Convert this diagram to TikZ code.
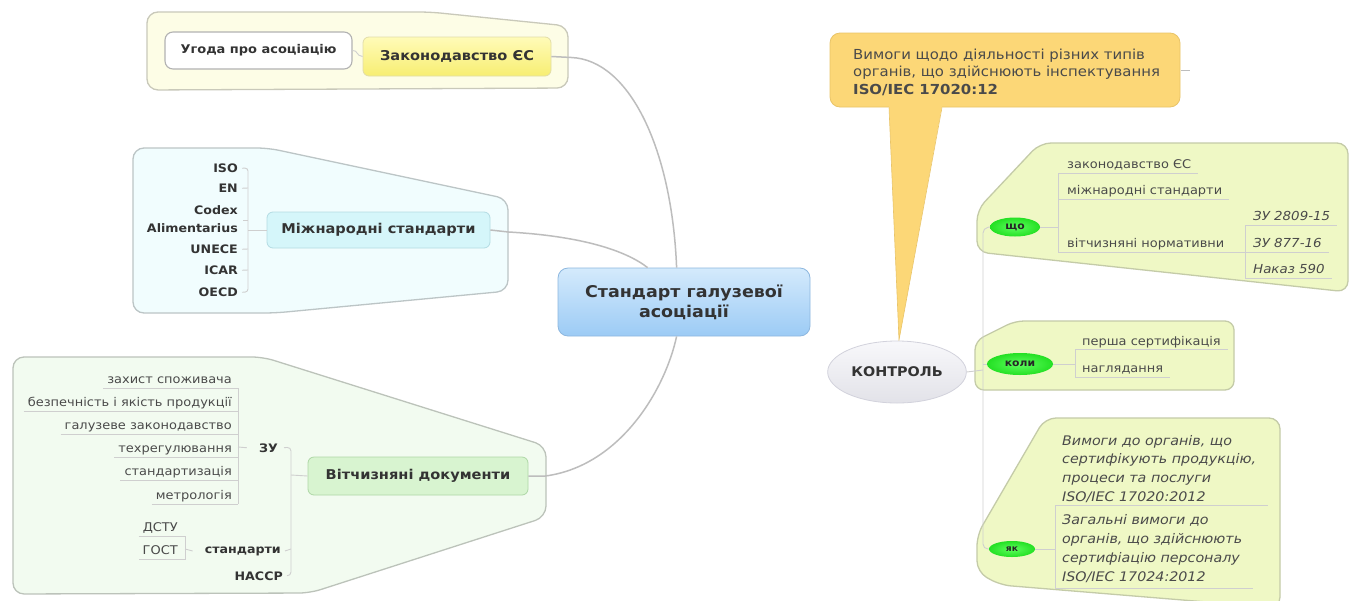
\documentclass[tikz,border=0pt]{standalone}
\usepackage{fontspec}
\setmainfont[FakeStretch=1.08]{DejaVu Sans}
\usetikzlibrary{calc,shapes.geometric}
\definecolor{txt}{HTML}{4A4A4A}
\definecolor{txtd}{HTML}{333333}
\definecolor{conn}{HTML}{BDBDBD}
\definecolor{tree}{HTML}{CFCFCF}
\definecolor{yelC}{HTML}{FDFDE6}
\definecolor{yelB}{HTML}{C9C9BA}
\definecolor{cyaC}{HTML}{F1FDFE}
\definecolor{cyaB}{HTML}{BCC5C6}
\definecolor{grnC}{HTML}{F2FBF0}
\definecolor{grnB}{HTML}{BCC3BA}
\definecolor{limC}{HTML}{EFF8C5}
\definecolor{limB}{HTML}{C4CBA8}
\definecolor{zakT}{HTML}{FFFBB8}
\definecolor{zakBt}{HTML}{F7EE72}
\definecolor{zakB}{HTML}{E2DDA8}
\definecolor{mizF}{HTML}{D5F6FA}
\definecolor{mizB}{HTML}{B3DCE3}
\definecolor{vitF}{HTML}{D8F4D0}
\definecolor{vitB}{HTML}{AED7A6}
\definecolor{cenT}{HTML}{D4EAFC}
\definecolor{cenBt}{HTML}{9CCBF5}
\definecolor{cenB}{HTML}{8DB7DF}
\definecolor{konF}{HTML}{EDEDF4}
\definecolor{konB}{HTML}{D2D2DC}
\definecolor{calF}{HTML}{FCD777}
\definecolor{calB}{HTML}{E9C468}
\definecolor{ovI}{HTML}{5EFF5E}
\definecolor{ovO}{HTML}{24E024}
\begin{document}
\begin{tikzpicture}[x=1pt,y=-1pt,
  lab/.style={font=\fontsize{12}{15}\selectfont, text=txt, inner sep=0pt},
  blab/.style={font=\bfseries\fontsize{11.7}{18}\selectfont, text=txtd, inner sep=0pt, align=right},
  ilab/.style={font=\itshape\fontsize{12.4}{19}\selectfont, text=txt, inner sep=0pt, align=left},
  ilabb/.style={font=\itshape\fontsize{13.2}{18.8}\selectfont, text=txt, inner sep=0pt, align=left},
  ul/.style={draw=tree, line width=0.9pt},
  cn/.style={draw=conn, line width=1.5pt},
  grp/.style={line width=1.3pt, rounded corners=11pt},
  topic/.style={rounded corners=6pt, line width=0.8pt, font=\bfseries\fontsize{13.5}{16}\selectfont, text=txtd},
  oval/.style={ellipse, inner sep=0pt, shading=radial, inner color=ovI, outer color=ovO, font=\bfseries\fontsize{10}{11}\selectfont, text=black!85}
]
\useasboundingbox (0,0) rectangle (1354,600);
\fill[white] (0,0) rectangle (1354,600);

% ---------- group containers ----------
\draw[grp, fill=yelC, draw=yelB] (147,12) -- (430,12) -- (568,26) -- (568,88) -- (147,90) -- cycle;
\draw[grp, fill=cyaC, draw=cyaB] (133,148) -- (268,148) -- (508,199) -- (508,291) -- (275,313) -- (133,313) -- cycle;
\draw[grp, fill=grnC, draw=grnB] (13,357) -- (263,357) -- (546,446) -- (546,517) -- (310,593) -- (13,594) -- cycle;
\draw[grp, fill=limC, draw=limB] (977,252) -- (977,210) -- (1040,143) -- (1348,143) -- (1348,292) -- cycle;
\draw[grp, rounded corners=9pt, fill=limC, draw=limB] (975,390) -- (975,341) -- (1015,321) -- (1234,321) -- (1234,390) -- cycle;
\draw[grp, fill=limC, draw=limB] (977,572) -- (977,535) -- (1045,418) -- (1280,418) -- (1280,608) -- (1000,585) -- cycle;

% ---------- callout ----------
\draw[fill=calF, draw=calB, line width=0.8pt, rounded corners=10pt] (830,33) rectangle (1180,107);
\fill[calF] (889,106) -- (899,340) -- (942,106) -- cycle;
\draw[calB, line width=0.6pt] (889,107.5) -- (899,340) -- (942,107.5);
\draw[conn, line width=0.8pt] (1181,70) -- (1190,70);
\node[anchor=base west, inner sep=0pt, align=left, text=txt, font=\fontsize{13.8}{17.5}\selectfont] (cal) at (853,94)
  {Вимоги щодо діяльності різних типів\\органів, що здійснюють інспектування\\\textbf{ISO/IEC 17020:12}};

% ---------- main topics ----------
\node[draw=cenB, top color=cenT, bottom color=cenBt, rounded corners=10pt, line width=0.8pt,
      minimum width=252pt, minimum height=68pt, align=center, text=txtd,
      font=\bfseries\fontsize{16.2}{20}\selectfont] (cen) at (684,302) {Стандарт галузевої\\асоціації};
\node[topic, draw=zakB, top color=zakT, bottom color=zakBt, minimum width=188pt, minimum height=39pt] (zak) at (457,56.5) {Законодавство ЄС};
\node[topic, draw=gray!60, fill=white, rounded corners=8pt, line width=1.1pt, minimum width=187pt, minimum height=37pt, font=\bfseries\fontsize{12}{15}\selectfont] (ugo) at (258.5,50.5) {Угода про асоціацію};
\node[topic, draw=mizB, fill=mizF, minimum width=223pt, minimum height=36pt] (miz) at (378.5,230) {Міжнародні стандарти};
\node[topic, draw=vitB, fill=vitF, minimum width=220pt, minimum height=38pt] (vit) at (418,476) {Вітчизняні документи};
\node[ellipse, draw=konB, top color=white!60!konF, bottom color=konF!90!gray, line width=0.8pt, minimum width=136pt, minimum height=62pt, text=txtd,
      font=\bfseries\fontsize{13.3}{15}\selectfont] (kon) at (897,372) {КОНТРОЛЬ};

% ---------- main connectors ----------
\draw[cn] (zak.east) -- ++(20,1) .. controls (630,60) and (672,150) .. ($(cen.north west)+(119,0)$);
\draw[cn] (miz.east) -- ++(18,2) .. controls (580,236) and (625,250) .. ($(cen.north west)+(90,0)$);
\draw[cn] (vit.east) -- ++(17,0) .. controls (620,466) and (665,390) .. ($(cen.south west)+(119,0)$);
\draw[ul] (ugo.east) .. controls (358,50) and (356,56) .. (zak.west);

% ---------- Міжнародні стандарти children ----------
\node[blab, anchor=base east] (iso) at (238,172.5) {ISO};
\node[blab, anchor=base east] (en) at (238,192.5) {EN};
\node[blab, anchor=base east] (cod) at (238,232.5) {Codex\\Alimentarius};
\node[blab, anchor=base east] (une) at (238,253.5) {UNECE};
\node[blab, anchor=base east] (ica) at (238,274.5) {ICAR};
\node[blab, anchor=base east] (oec) at (238,296.5) {OECD};
\draw[ul, rounded corners=3pt] ($(iso.east)+(4,0)$) -- (248,168) -- (248,292) -- ($(oec.east)+(4,0)$);
\draw[ul] ($(en.east)+(4,0)$) -- (248,188);
\draw[ul] (243,220) -- (248,220);
\draw[ul] ($(une.east)+(4,0)$) -- (248,249);
\draw[ul] ($(ica.east)+(4,0)$) -- (248,270);
\draw[ul] (248,230) -- (miz.west);

% ---------- Вітчизняні документи children ----------
\node[blab, anchor=base east] (zu) at (278,452) {ЗУ};
\node[blab, anchor=base east] (std) at (281,553) {стандарти};
\node[blab, anchor=base east] (hac) at (283,580) {НАССР};
\draw[ul, rounded corners=4pt] ($(zu.east)+(6,0)$) -- (291,447) -- (291,576) -- ($(hac.east)+(4,0)$);
\draw[ul] ($(std.east)+(4,0)$) -- (291,549);
\draw[ul] (291,475) -- (vit.west);

\node[lab, anchor=base east] (z1) at (232,383) {захист споживача};
\node[lab, anchor=base east] (z2) at (232,406.2) {безпечність і якість продукції};
\node[lab, anchor=base east] (z3) at (232,429.4) {галузеве законодавство};
\node[lab, anchor=base east] (z4) at (232,452.6) {техрегулювання};
\node[lab, anchor=base east] (z5) at (232,475.8) {стандартизація};
\node[lab, anchor=base east] (z6) at (232,499) {метрологія};
\draw[ul] ($(z1.base west)+(-4,5)$) -- (238,388);
\draw[ul] ($(z2.base west)+(-4,5)$) -- (238,411.2);
\draw[ul] ($(z3.base west)+(-4,5)$) -- (238,434.4);
\draw[ul] ($(z4.base west)+(-4,5)$) -- (238,457.6);
\draw[ul] ($(z5.base west)+(-4,5)$) -- (238,480.8);
\draw[ul] ($(z6.base west)+(-4,5)$) -- (238,504);
\draw[ul] (238,388) -- (238,504);
\draw[ul] (238,447) -- ($(zu.west)+(-12,0)$);

\node[lab, anchor=base east] (dstu) at (178,531) {ДСТУ};
\node[lab, anchor=base east] (gost) at (178,554) {ГОСТ};
\draw[ul] ($(dstu.base west)+(-4,5)$) -- (185,536) -- (185,559) -- ($(gost.base west)+(-4,5)$);
\draw[ul] (185,549) -- ($(std.west)+(-12,0)$);

% ---------- КОНТРОЛЬ branch ----------
\node[oval, minimum width=50pt, minimum height=19pt] (sho) at (1015,227) {що};
\node[oval, minimum width=66pt, minimum height=22pt] (kol) at (1020,364) {коли};
\node[oval, minimum width=46pt, minimum height=16pt, font=\bfseries\fontsize{8.5}{10}\selectfont] (yak) at (1012,549) {як};
\draw[ul] (kon.east) -- (983,370);
\draw[ul, rounded corners=5pt] (sho.west) -- (983,228) -- (983,549) -- (yak.west);
\draw[ul] (983,364) -- (kol.west);

% що children
\node[lab, anchor=base west] (s1) at (1067,168) {законодавство ЄС};
\node[lab, anchor=base west] (s2) at (1067,194) {міжнародні стандарти};
\node[lab, anchor=base west] (s3) at (1067,247) {вітчизняні нормативни};
\draw[ul] (1058,173) -- ($(s1.base east)+(7,5)$);
\draw[ul] (1058,199) -- ($(s2.base east)+(7,5)$);
\draw[ul] (1058,252) -- (1245,252);
\draw[ul] (1058,173) -- (1058,252);
\draw[ul] (sho.east) -- (1058,227);
\node[ilab, anchor=base west] (n1) at (1253,220) {ЗУ 2809-15};
\node[ilab, anchor=base west] (n2) at (1253,247) {ЗУ 877-16};
\node[ilab, anchor=base west] (n3) at (1253,273) {Наказ 590};
\draw[ul] (1245,225) -- ($(n1.base east)+(7,5)$);
\draw[ul] (1245,252) -- ($(n2.base east)+(7,5)$);
\draw[ul] (1245,278) -- ($(n3.base east)+(7,5)$);
\draw[ul] (1245,225) -- (1245,278);

% коли children
\node[lab, anchor=base west] (k1) at (1082,345) {перша сертифікація};
\node[lab, anchor=base west] (k2) at (1082,372) {наглядання};
\draw[ul] (1075,349) -- ($(k1.base east)+(7,4)$);
\draw[ul] (1075,377) -- ($(k2.base east)+(7,5)$);
\draw[ul] (1075,349) -- (1075,377);
\draw[ul] (kol.east) -- (1075,364);

% як children
\node[ilabb, anchor=base west] (y1) at (1062,501.5) {Вимоги до органів, що\\сертифікують продукцію,\\процеси та послуги\\ISO/IEC 17020:2012};
\node[ilabb, anchor=base west] (y2) at (1062,581) {Загальні вимоги до\\органів, що здійснюють\\сертифіацію персоналу\\ISO/IEC 17024:2012};
\draw[ul] (1055,505) -- (1268,505);
\draw[ul] (1055,588) -- (1253,588);
\draw[ul] (1055,505) -- (1055,588);
\draw[ul] (yak.east) -- (1055,549);
\end{tikzpicture}
\end{document}
